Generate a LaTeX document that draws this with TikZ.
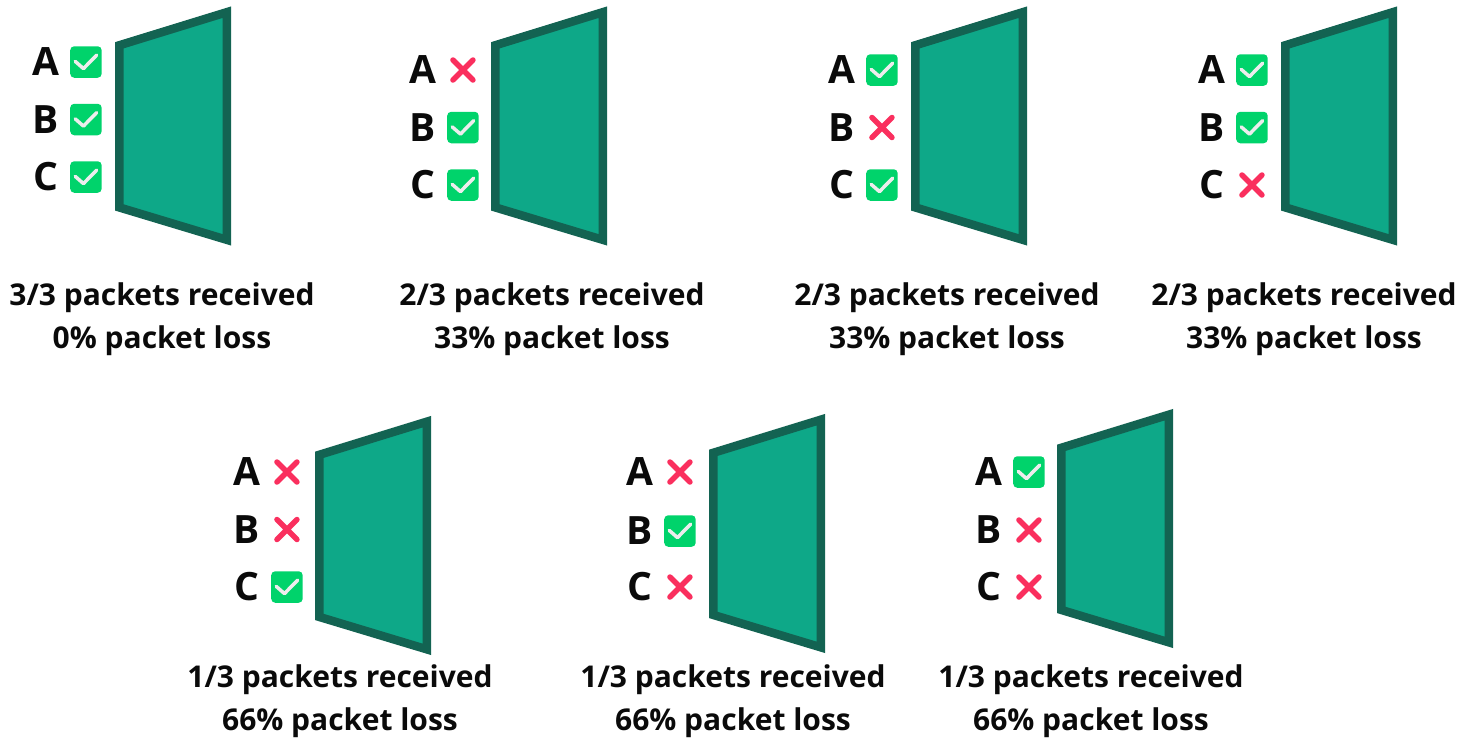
\documentclass[tikz,border=0pt]{standalone}
\usepackage{fontspec}
\setmainfont{Open Sans}
\usetikzlibrary{positioning}
\definecolor{funnelfill}{HTML}{0EA888}
\definecolor{funneledge}{HTML}{136352}
\definecolor{okgreen}{HTML}{00D36B}
\definecolor{lossred}{HTML}{FA2F5E}
\definecolor{inkblack}{HTML}{0A0A0A}
\tikzset{
  funnel/.pic={
    \draw[fill=funnelfill, draw=funneledge, line width=8.5pt, line join=miter]
      (4.25,38.8) -- (111.75,5.7) -- (111.75,233.3) -- (4.25,200.9) -- cycle;
  },
  letter/.style={
    font=\fontsize{39}{39}\selectfont\bfseries,
    text=inkblack,
    inner sep=0pt
  },
  got/.style={
    rectangle,
    rounded corners=4pt,
    fill=okgreen,
    minimum size=31.5pt,
    inner sep=0pt,
    path picture={\draw[white!93!black, line width=3.5pt, sharp corners, line cap=round, line join=round,
      shift={(path picture bounding box.center)}] (-10.7,-0.6) -- (-2.5,6.6) -- (10.7,-6.9);}
  },
  lost/.style={
    rectangle,
    minimum size=31.5pt,
    inner sep=0pt,
    path picture={\draw[lossred, line width=5.5pt, line cap=round,
      shift={(path picture bounding box.center)}] (-10,-10) -- (10,10) (-10,10) -- (10,-10);}
  },
  caption/.style={
    align=center,
    font=\fontsize{30}{43}\selectfont\bfseries,
    text=inkblack,
    inner sep=0pt
  }
}
\begin{document}
\begin{tikzpicture}[x=1pt, y=-1pt, node distance=24pt]
  \useasboundingbox (0,0) rectangle (1463,740);

  % 3/3 received
  \pic at (115,6.5) {funnel};
  \node[letter] (a1) at (46,62) {A};
  \node[letter] (b1) at (46,119.5) {B};
  \node[letter] (c1) at (46,177) {C};
  \node[got, right=of a1.center] (ma1) {};
  \node[got, right=of b1.center] (mb1) {};
  \node[got, right=of c1.center] (mc1) {};
  \node[caption] (cap1) at (162,319.5) {3/3 packets received\\0\% packet loss};

  % A lost
  \pic at (491,6.5) {funnel};
  \node[letter] (a2) at (423,70) {A};
  \node[letter] (b2) at (423,127.5) {B};
  \node[letter] (c2) at (423,185) {C};
  \node[lost, right=of a2.center] (ma2) {};
  \node[got, right=of b2.center] (mb2) {};
  \node[got, right=of c2.center] (mc2) {};
  \node[caption] (cap2) at (552,319.5) {2/3 packets received\\33\% packet loss};

  % B lost
  \pic at (911,6.5) {funnel};
  \node[letter] (a3) at (842,70) {A};
  \node[letter] (b3) at (842,127.5) {B};
  \node[letter] (c3) at (842,185) {C};
  \node[got, right=of a3.center] (ma3) {};
  \node[lost, right=of b3.center] (mb3) {};
  \node[got, right=of c3.center] (mc3) {};
  \node[caption] (cap3) at (947,319.5) {2/3 packets received\\33\% packet loss};

  % C lost
  \pic at (1281,6.5) {funnel};
  \node[letter] (a4) at (1212,70) {A};
  \node[letter] (b4) at (1212,127.5) {B};
  \node[letter] (c4) at (1212,185) {C};
  \node[got, right=of a4.center] (ma4) {};
  \node[got, right=of b4.center] (mb4) {};
  \node[lost, right=of c4.center] (mc4) {};
  \node[caption] (cap4) at (1304,319.5) {2/3 packets received\\33\% packet loss};

  % only C
  \pic at (315,416) {funnel};
  \node[letter] (a5) at (247,472) {A};
  \node[letter] (b5) at (247,529.5) {B};
  \node[letter] (c5) at (247,587) {C};
  \node[lost, right=of a5.center] (ma5) {};
  \node[lost, right=of b5.center] (mb5) {};
  \node[got, right=of c5.center] (mc5) {};
  \node[caption] (cap5) at (340,701.5) {1/3 packets received\\66\% packet loss};

  % only B
  \pic at (709,414) {funnel};
  \node[letter] (a6) at (640,472) {A};
  \node[letter] (b6) at (640,531) {B};
  \node[letter] (c6) at (640,587) {C};
  \node[lost, right=of a6.center] (ma6) {};
  \node[got, right=of b6.center] (mb6) {};
  \node[lost, right=of c6.center] (mc6) {};
  \node[caption] (cap6) at (733,701.5) {1/3 packets received\\66\% packet loss};

  % only A
  \pic at (1057,409) {funnel};
  \node[letter] (a7) at (989,472) {A};
  \node[letter] (b7) at (989,530) {B};
  \node[letter] (c7) at (989,587) {C};
  \node[got, right=of a7.center] (ma7) {};
  \node[lost, right=of b7.center] (mb7) {};
  \node[lost, right=of c7.center] (mc7) {};
  \node[caption] (cap7) at (1091,701.5) {1/3 packets received\\66\% packet loss};
\end{tikzpicture}
\end{document}
